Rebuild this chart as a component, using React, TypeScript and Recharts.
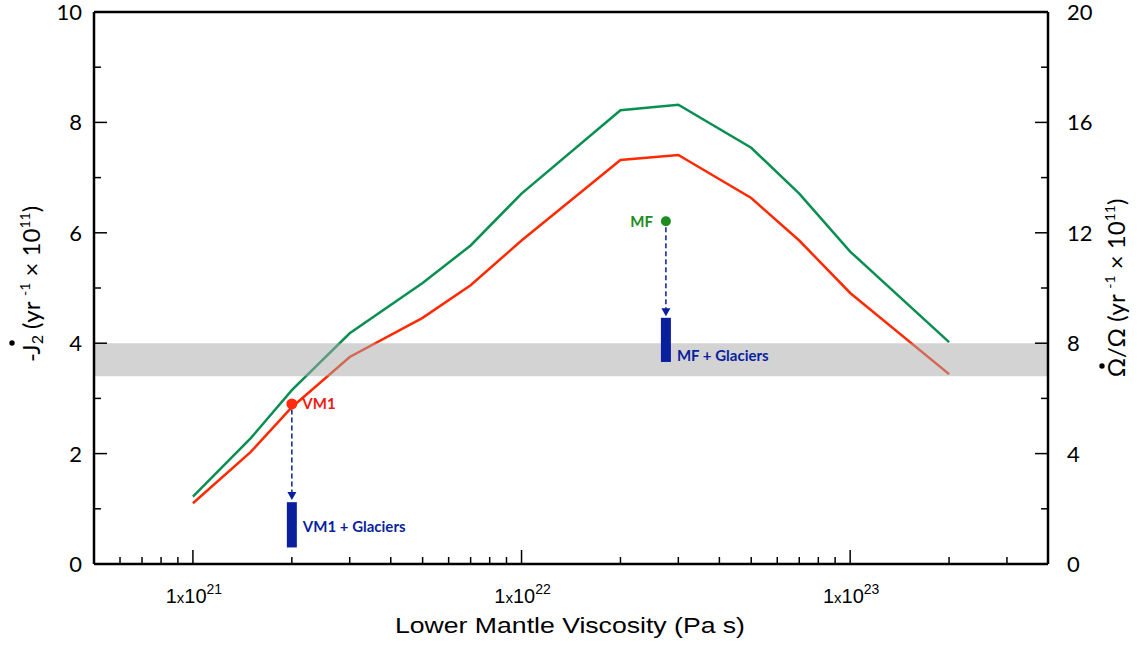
import React from 'react';
import {
  ComposedChart,
  Line,
  XAxis,
  YAxis,
  ReferenceArea,
  ReferenceLine,
  ReferenceDot,
} from 'recharts';

// lower mantle viscosity (Pa s)
const viscosity = [1e21, 1.5e21, 2e21, 3e21, 5e21, 7e21, 1e22, 2e22, 3e22, 5e22, 7e22, 1e23, 2e23];
const greenJ2 = [1.22, 2.28, 3.15, 4.18, 5.09, 5.77, 6.71, 8.22, 8.32, 7.54, 6.71, 5.66, 4.02];
const redJ2 = [1.1, 2.03, 2.84, 3.75, 4.46, 5.05, 5.86, 7.32, 7.41, 6.63, 5.86, 4.91, 3.44];

const xTicks = [
  6e20, 7e20, 8e20, 9e20,
  1e21, 2e21, 3e21, 4e21, 5e21, 6e21, 7e21, 8e21, 9e21,
  1e22, 2e22, 3e22, 4e22, 5e22, 6e22, 7e22, 8e22, 9e22,
  1e23, 2e23, 3e23,
];
const leftTicks = [0, 1, 2, 3, 4, 5, 6, 7, 8, 9, 10];
const rightTicks = [0, 2, 4, 6, 8, 10, 12, 14, 16, 18, 20];

// observed band
const bandLow = 3.4;
const bandHigh = 4.0;

// model points and the glacier corrected ranges
const vm1Point = { x: 2e21, y: 2.9 };
const vm1Arrow = { from: 2.8, to: 1.16 };
const vm1Glaciers = { low: 0.3, high: 1.12, labelY: 0.68 };
const mfPoint = { x: 2.75e22, y: 6.21 };
const mfArrow = { from: 6.1, to: 4.49 };
const mfGlaciers = { low: 3.66, high: 4.46, labelY: 3.77 };

const greenData = viscosity.map((x, i) => ({ x, y: greenJ2[i] }));
const redData = viscosity.map((x, i) => ({ x, y: redJ2[i] }));

const NAVY = '#0a1f9e';
const TICK_FONT = 'Lato, "Open Sans", sans-serif';
const HELV = "'Liberation Sans', Arial, sans-serif";

const isMajorX = (v: number) => {
  const e = Math.round(Math.log10(v));
  return Math.abs(v - Math.pow(10, e)) / v < 1e-6;
};

const XTick = (props: any) => {
  const { x, y, payload } = props;
  const v = payload.value;
  const major = isMajorX(v);
  const e = Math.round(Math.log10(v));
  return (
    <g>
      <line x1={x} x2={x} y1={y} y2={y - (major ? 14 : 7)} stroke="#000" strokeWidth={1.5} />
      {major && (
        <text x={x + 1} y={y + 39} textAnchor="middle" fontFamily={HELV} fontSize={20} fill="#000">
          1<tspan fontSize={15}>x</tspan>10
          <tspan dy={-9} fontSize={14}>{e}</tspan>
        </text>
      )}
    </g>
  );
};

const LeftTick = (props: any) => {
  const { x, y, payload } = props;
  const v = payload.value;
  const major = v % 2 === 0;
  return (
    <g>
      <line x1={x} x2={x + (major ? 13 : 7)} y1={y} y2={y} stroke="#000" strokeWidth={1.5} />
      {major && (
        <text x={x - 12} y={y + 8} textAnchor="end" fontFamily={TICK_FONT} fontSize={22} fill="#000">
          {v}
        </text>
      )}
    </g>
  );
};

const RightTick = (props: any) => {
  const { x, y, payload } = props;
  const v = payload.value;
  const major = v % 4 === 0;
  return (
    <g>
      <line x1={x} x2={x - (major ? 13 : 7)} y1={y} y2={y} stroke="#000" strokeWidth={1.5} />
      {major && (
        <text x={x + 19} y={y + 8} textAnchor="start" fontFamily={TICK_FONT} fontSize={22} fill="#000">
          {v}
        </text>
      )}
    </g>
  );
};

const LeftTitle = () => (
  <g>
    <text
      transform="translate(34,284) rotate(-90)"
      textAnchor="middle"
      dominantBaseline="middle"
      fontFamily={TICK_FONT}
      fontSize={24}
      fill="#000"
    >
      -J<tspan fontSize={16} dy={5}>2</tspan>
      <tspan dy={-5}> (yr </tspan>
      <tspan fontSize={14} dy={-8}>-1</tspan>
      <tspan dy={8}> × 10</tspan>
      <tspan fontSize={14} dy={-8}>11</tspan>
      <tspan dy={8}>)</tspan>
    </text>
    <circle cx={12} cy={343} r={2.7} fill="#000" />
  </g>
);

const RightTitle = () => (
  <g>
    <text
      transform="translate(1119,288) rotate(-90)"
      textAnchor="middle"
      dominantBaseline="middle"
      fontFamily={TICK_FONT}
      fontSize={24}
      fill="#000"
    >
      Ω/Ω (yr <tspan fontSize={14} dy={-8}>-1</tspan>
      <tspan dy={8}> × 10</tspan>
      <tspan fontSize={14} dy={-8}>11</tspan>
      <tspan dy={8}>)</tspan>
    </text>
    <circle cx={1102} cy={366} r={2.7} fill="#000" />
  </g>
);

const XTitle = () => (
  <text
    x={570}
    y={633}
    textAnchor="middle"
    fontFamily={HELV}
    fontSize={22}
    textLength={350}
    lengthAdjust="spacingAndGlyphs"
    fill="#000"
  >
    Lower Mantle Viscosity (Pa s)
  </text>
);

const ArrowHead = (props: any) => {
  const { cx, cy } = props;
  return <path d={`M${cx - 4.5},${cy - 8} L${cx + 4.5},${cy - 8} L${cx},${cy} Z`} fill={NAVY} />;
};

const Empty = () => <g />;

const labelStyle = (fill: string) => ({
  fill,
  fontSize: 15,
  fontWeight: 700,
  fontFamily: TICK_FONT,
});

export default function App() {
  return (
    <div style={{ position: 'absolute', left: 0, top: 0, background: '#fff' }}>
      <ComposedChart width={1137} height={646} margin={{ top: 12, right: 0, bottom: 0, left: 0 }}>
        <XAxis
          dataKey="x"
          type="number"
          scale="log"
          domain={[5e20, 4e23]}
          allowDataOverflow
          ticks={xTicks}
          interval={0}
          tick={<XTick />}
          tickLine={false}
          tickSize={0}
          tickMargin={0}
          height={82}
          axisLine={{ stroke: '#000', strokeWidth: 2.5 }}
          label={<XTitle />}
        />
        <YAxis
          yAxisId="left"
          dataKey="y"
          type="number"
          domain={[0, 10]}
          allowDataOverflow
          ticks={leftTicks}
          interval={0}
          tick={<LeftTick />}
          tickLine={false}
          tickSize={0}
          tickMargin={0}
          width={94}
          axisLine={{ stroke: '#000', strokeWidth: 2.5 }}
          label={<LeftTitle />}
        />
        <YAxis
          yAxisId="right"
          orientation="right"
          type="number"
          domain={[0, 20]}
          allowDataOverflow
          ticks={rightTicks}
          interval={0}
          tick={<RightTick />}
          tickLine={false}
          tickSize={0}
          tickMargin={0}
          width={89}
          axisLine={{ stroke: '#000', strokeWidth: 2.5 }}
          label={<RightTitle />}
        />
        <ReferenceLine yAxisId="left" y={10} stroke="#000" strokeWidth={2.5} />
        <ReferenceLine yAxisId="right" y={20} stroke="none" ifOverflow="extendDomain" />

        <Line
          yAxisId="left"
          data={greenData}
          dataKey="y"
          stroke="#0a8f52"
          strokeWidth={2.5}
          dot={false}
          isAnimationActive={false}
        />
        <Line
          yAxisId="left"
          data={redData}
          dataKey="y"
          stroke="#ff2a00"
          strokeWidth={2.5}
          dot={false}
          isAnimationActive={false}
        />

        <ReferenceArea
          yAxisId="left"
          y1={bandLow}
          y2={bandHigh}
          fill="#a8a8a8"
          fillOpacity={0.5}
          stroke="none"
          zIndex={450}
        />

        {/* VM1 */}
        <ReferenceLine
          yAxisId="left"
          segment={[{ x: vm1Point.x, y: vm1Arrow.from }, { x: vm1Point.x, y: vm1Arrow.to + 0.12 }]}
          stroke={NAVY}
          strokeWidth={1.5}
          strokeDasharray="5 3"
          zIndex={700}
        />
        <ReferenceDot yAxisId="left" x={vm1Point.x} y={vm1Arrow.to} shape={<ArrowHead />} zIndex={700} />
        <ReferenceLine
          yAxisId="left"
          segment={[{ x: vm1Point.x, y: vm1Glaciers.low }, { x: vm1Point.x, y: vm1Glaciers.high }]}
          stroke={NAVY}
          strokeWidth={10}
          zIndex={700}
        />
        <ReferenceDot
          yAxisId="left"
          x={vm1Point.x}
          y={vm1Point.y}
          r={5.5}
          fill="#ff2a10"
          stroke="none"
          zIndex={700}
          label={{ value: 'VM1', position: 'right', offset: 5, ...labelStyle('#f01a10') }}
        />
        <ReferenceDot
          yAxisId="left"
          x={vm1Point.x}
          y={vm1Glaciers.labelY}
          r={1}
          shape={<Empty />}
          zIndex={700}
          label={{ value: 'VM1 + Glaciers', position: 'right', offset: 10, ...labelStyle(NAVY) }}
        />

        {/* MF */}
        <ReferenceLine
          yAxisId="left"
          segment={[{ x: mfPoint.x, y: mfArrow.from }, { x: mfPoint.x, y: mfArrow.to + 0.12 }]}
          stroke={NAVY}
          strokeWidth={1.5}
          strokeDasharray="5 3"
          zIndex={700}
        />
        <ReferenceDot yAxisId="left" x={mfPoint.x} y={mfArrow.to} shape={<ArrowHead />} zIndex={700} />
        <ReferenceLine
          yAxisId="left"
          segment={[{ x: mfPoint.x, y: mfGlaciers.low }, { x: mfPoint.x, y: mfGlaciers.high }]}
          stroke={NAVY}
          strokeWidth={10}
          zIndex={700}
        />
        <ReferenceDot
          yAxisId="left"
          x={mfPoint.x}
          y={mfPoint.y}
          r={5}
          fill="#1e8c1e"
          stroke="none"
          zIndex={700}
          label={{ value: 'MF', position: 'left', offset: 8, ...labelStyle('#1e8c1e') }}
        />
        <ReferenceDot
          yAxisId="left"
          x={mfPoint.x}
          y={mfGlaciers.labelY}
          r={1}
          shape={<Empty />}
          zIndex={700}
          label={{ value: 'MF + Glaciers', position: 'right', offset: 10, ...labelStyle(NAVY) }}
        />
      </ComposedChart>
    </div>
  );
}
